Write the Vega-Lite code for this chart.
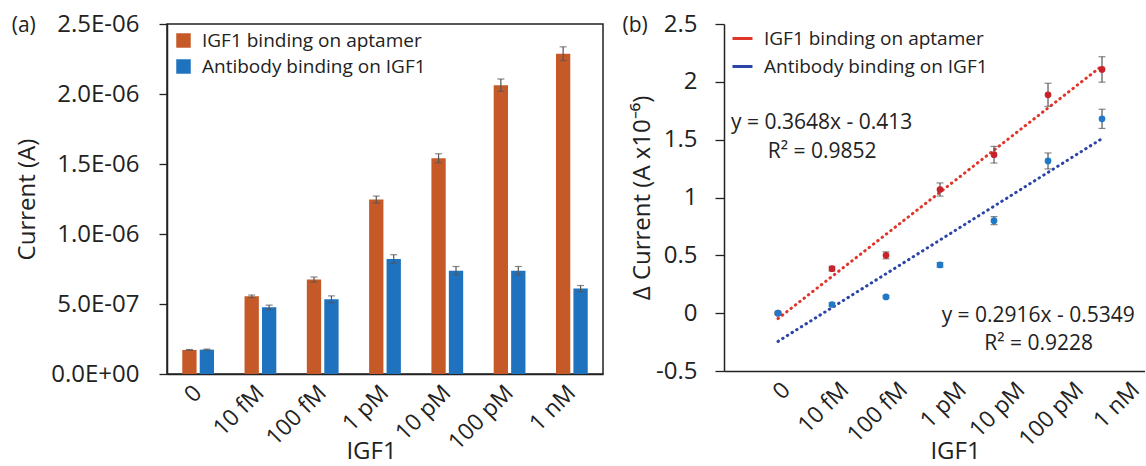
{
  "$schema": "https://vega.github.io/schema/vega-lite/v6.json",
  "padding": {"left": 10, "top": 11, "right": 0, "bottom": 0},
  "background": "white",
  "bounds": "flush",
  "spacing": 121,
  "config": {
    "font": "Open Sans",
    "view": {"stroke": null},
    "axis": {"labelColor": "#222", "titleColor": "#222", "domainColor": "#222", "tickColor": "#222", "grid": false, "labelFont": "Open Sans", "titleFont": "Open Sans", "titleFontWeight": "normal", "domainWidth": 1.5, "tickWidth": 1.3},
    "legend": {"labelColor": "#222", "labelFont": "Open Sans"},
    "title": {"font": "Open Sans", "fontWeight": "normal", "color": "#222"}
  },
  "resolve": {"scale": {"x": "independent", "y": "independent", "fill": "independent", "stroke": "independent"}, "legend": {"fill": "independent", "stroke": "independent"}},
  "datasets": {
    "bars": [
      {"conc": "0", "series": "IGF1 binding on aptamer", "current": 1.72e-7, "err": 3e-9},
      {"conc": "0", "series": "Antibody binding on IGF1", "current": 1.74e-7, "err": 4e-9},
      {"conc": "10 fM", "series": "IGF1 binding on aptamer", "current": 5.55e-7, "err": 9e-9},
      {"conc": "10 fM", "series": "Antibody binding on IGF1", "current": 4.77e-7, "err": 1.5e-8},
      {"conc": "100 fM", "series": "IGF1 binding on aptamer", "current": 6.75e-7, "err": 1.8e-8},
      {"conc": "100 fM", "series": "Antibody binding on IGF1", "current": 5.34e-7, "err": 2.4e-8},
      {"conc": "1 pM", "series": "IGF1 binding on aptamer", "current": 1.246e-6, "err": 2.5e-8},
      {"conc": "1 pM", "series": "Antibody binding on IGF1", "current": 8.21e-7, "err": 3.1e-8},
      {"conc": "10 pM", "series": "IGF1 binding on aptamer", "current": 1.541e-6, "err": 3.2e-8},
      {"conc": "10 pM", "series": "Antibody binding on IGF1", "current": 7.38e-7, "err": 3.0e-8},
      {"conc": "100 pM", "series": "IGF1 binding on aptamer", "current": 2.063e-6, "err": 4.4e-8},
      {"conc": "100 pM", "series": "Antibody binding on IGF1", "current": 7.38e-7, "err": 3.0e-8},
      {"conc": "1 nM", "series": "IGF1 binding on aptamer", "current": 2.288e-6, "err": 4.9e-8},
      {"conc": "1 nM", "series": "Antibody binding on IGF1", "current": 6.10e-7, "err": 2.2e-8}
    ],
    "delta": [
      {"series": "IGF1 binding on aptamer", "idx": 1, "dy": 0, "err": 0.01},
      {"series": "IGF1 binding on aptamer", "idx": 2, "dy": 0.385, "err": 0.02},
      {"series": "IGF1 binding on aptamer", "idx": 3, "dy": 0.50, "err": 0.03},
      {"series": "IGF1 binding on aptamer", "idx": 4, "dy": 1.069, "err": 0.057},
      {"series": "IGF1 binding on aptamer", "idx": 5, "dy": 1.37, "err": 0.072},
      {"series": "IGF1 binding on aptamer", "idx": 6, "dy": 1.888, "err": 0.10},
      {"series": "IGF1 binding on aptamer", "idx": 7, "dy": 2.107, "err": 0.11},
      {"series": "Antibody binding on IGF1", "idx": 1, "dy": 0, "err": 0.01},
      {"series": "Antibody binding on IGF1", "idx": 2, "dy": 0.075, "err": 0.015},
      {"series": "Antibody binding on IGF1", "idx": 3, "dy": 0.14, "err": 0.01},
      {"series": "Antibody binding on IGF1", "idx": 4, "dy": 0.417, "err": 0.02},
      {"series": "Antibody binding on IGF1", "idx": 5, "dy": 0.80, "err": 0.035},
      {"series": "Antibody binding on IGF1", "idx": 6, "dy": 1.316, "err": 0.069},
      {"series": "Antibody binding on IGF1", "idx": 7, "dy": 1.68, "err": 0.083}
    ],
    "annots": [
      {"idx": 0.13, "dy": 1.644, "txt": "y = 0.3648x - 0.413"},
      {"idx": 0.81, "dy": 1.393, "txt": "R² = 0.9852"},
      {"idx": 4.03, "dy": -0.024, "txt": "y = 0.2916x - 0.5349"},
      {"idx": 4.82, "dy": -0.267, "txt": "R² = 0.9228"}
    ]
  },
  "hconcat": [
    {
      "width": 436,
      "height": 350,
      "title": {"text": "(a)", "anchor": "start", "frame": "bounds", "orient": "top", "fontSize": 21, "baseline": "middle", "offset": -35, "dx": -4},
      "view": {"stroke": "#222", "strokeWidth": 1.5},
      "data": {"name": "bars"},
      "encoding": {
        "x": {"field": "conc", "type": "nominal", "sort": ["0", "10 fM", "100 fM", "1 pM", "10 pM", "100 pM", "1 nM"],
          "scale": {"paddingInner": 0.49, "paddingOuter": 0.245},
          "axis": {"title": "IGF1", "titleFontSize": 24, "labelFontSize": 23, "labelAngle": -45, "labelAlign": "right", "labelBaseline": "middle", "ticks": false, "labelPadding": 15, "titleX": 204, "titleY": 84, "titleBaseline": "alphabetic"}},
        "xOffset": {"field": "series", "type": "nominal", "sort": ["IGF1 binding on aptamer", "Antibody binding on IGF1"], "scale": {"paddingInner": 0.18}},
        "y": {"field": "current", "type": "quantitative", "scale": {"domain": [0, 2.5e-6], "nice": false},
          "axis": {"title": "Current (A)", "titleFontSize": 24, "titlePadding": 11, "labelFontSize": 24, "tickSize": 8, "labelPadding": 20,
            "values": [0, 5e-7, 1e-6, 1.5e-6, 2e-6, 2.5e-6],
            "labelExpr": "datum.value == 0 ? '0.0E+00' : replace(replace(format(datum.value, '.1e'), 'e-', 'E-0'), 'e+', 'E+0')"}}
      },
      "layer": [
        {
          "mark": {"type": "bar"},
          "encoding": {
            "fill": {"field": "series", "type": "nominal", "sort": ["IGF1 binding on aptamer", "Antibody binding on IGF1"],
              "scale": {"domain": ["IGF1 binding on aptamer", "Antibody binding on IGF1"], "range": ["#C55A28", "#1F72BE"]},
              "legend": {"title": null, "orient": "none", "legendX": 7, "legendY": 7, "symbolType": "square", "symbolSize": 210, "symbolStrokeWidth": 0, "labelFontSize": 19, "labelOffset": 9, "rowPadding": 6, "padding": 0, "labelLimit": 400}}
          }
        },
        {
          "mark": {"type": "errorbar", "color": "#555", "thickness": 1.2, "ticks": {"size": 7, "thickness": 1.2, "color": "#555"}},
          "encoding": {
            "yError": {"field": "err"}
          }
        }
      ]
    },
    {
      "width": 421,
      "height": 347,
      "title": {"text": "(b)", "anchor": "start", "frame": "bounds", "orient": "top", "fontSize": 21, "baseline": "middle", "offset": -35, "dx": -8},
      "layer": [
        {
          "data": {"name": "delta"},
          "transform": [{"regression": "dy", "on": "idx", "groupby": ["series"], "extent": [1, 7]}],
          "mark": {"type": "line", "strokeWidth": 3, "strokeDash": [0.5, 5], "strokeCap": "round"},
          "encoding": {
            "x": {"field": "idx", "type": "quantitative", "title": "IGF1", "scale": {"domain": [0, 7.796], "nice": false, "zero": false},
              "axis": {"titleFontSize": 24, "labelFontSize": 23, "labelAngle": -45, "labelAlign": "right", "labelBaseline": "middle", "ticks": false, "labelPadding": 15, "titleX": 231, "titleY": 87, "titleBaseline": "alphabetic",
                "values": [1.148, 2.235, 3.322, 4.409, 5.496, 6.583, 7.62], "labelFlush": false, "labelOverlap": false, "labelBound": false,
                "labelExpr": "['0','10 fM','100 fM','1 pM','10 pM','100 pM','1 nM'][floor(datum.value)-1]"}},
            "y": {"field": "dy", "type": "quantitative", "title": "Δ Current (A x10⁻⁶)", "scale": {"domain": [-0.5, 2.5], "nice": false},
              "axis": {"titleFontSize": 24, "titlePadding": 1, "labelFontSize": 24, "tickSize": 9, "labelPadding": 18,
                "values": [-0.5, 0, 0.5, 1, 1.5, 2, 2.5], "labelExpr": "datum.value + ''"}},
            "stroke": {"field": "series", "type": "nominal", "sort": ["IGF1 binding on aptamer", "Antibody binding on IGF1"],
              "scale": {"domain": ["IGF1 binding on aptamer", "Antibody binding on IGF1"], "range": ["#E0352A", "#2B44A8"]},
              "legend": {"title": null, "orient": "none", "legendX": 7, "legendY": 3, "symbolType": "stroke", "symbolSize": 400, "symbolStrokeWidth": 3, "symbolDash": [1, 0], "labelFontSize": 19, "labelOffset": 10, "rowPadding": 6, "padding": 0, "labelLimit": 400}}
          }
        },
        {
          "data": {"name": "delta"},
          "mark": {"type": "errorbar", "color": "#555", "thickness": 1.2, "ticks": {"size": 7, "thickness": 1.2, "color": "#555"}},
          "encoding": {
            "x": {"field": "idx", "type": "quantitative", "title": "IGF1"},
            "y": {"field": "dy", "type": "quantitative", "title": "Δ Current (A x10⁻⁶)"},
            "yError": {"field": "err"}
          }
        },
        {
          "data": {"name": "delta"},
          "mark": {"type": "circle", "size": 45, "opacity": 1},
          "encoding": {
            "x": {"field": "idx", "type": "quantitative", "title": "IGF1"},
            "y": {"field": "dy", "type": "quantitative", "title": "Δ Current (A x10⁻⁶)"},
            "fill": {"field": "series", "type": "nominal", "scale": {"domain": ["IGF1 binding on aptamer", "Antibody binding on IGF1"], "range": ["#C8232C", "#1F78C8"]}, "legend": null}
          }
        },
        {
          "data": {"name": "annots"},
          "mark": {"type": "text", "align": "left", "baseline": "middle", "fontSize": 21, "color": "#222"},
          "encoding": {
            "x": {"field": "idx", "type": "quantitative", "title": "IGF1"},
            "y": {"field": "dy", "type": "quantitative", "title": "Δ Current (A x10⁻⁶)"},
            "text": {"field": "txt"}
          }
        },
        {
          "mark": {"type": "rule", "color": "#222", "strokeWidth": 1.5},
          "encoding": {
            "y": {"datum": 2.5, "type": "quantitative", "title": "Δ Current (A x10⁻⁶)"}
          }
        }
      ]
    }
  ]
}
